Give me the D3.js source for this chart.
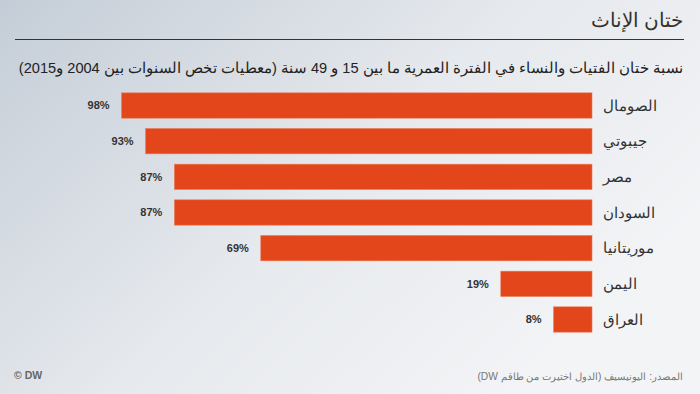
<!DOCTYPE html>
<html>
<head>
<meta charset="utf-8">
<script src="https://cdn.jsdelivr.net/npm/d3@7"></script>
<style>
  body { margin: 0; }
  svg { display: block; font-family: "Liberation Sans", Arial, sans-serif; }
</style>
</head>
<body>
<svg width="700" height="394"></svg>
<script>
// countries, top to bottom, and share in percent
const countries = ["الصومال", "جيبوتي", "مصر", "السودان", "موريتانيا", "اليمن", "العراق"];
const values = [98, 93, 87, 87, 69, 19, 8];

const title = "ختان الإناث";
const subtitle = "نسبة ختان الفتيات والنساء في الفترة العمرية ما بين 15 و  49 سنة (معطيات تخص السنوات بين 2004 و2015)";
const source = "المصدر: اليونيسيف (الدول اختيرت من طاقم DW)";

let svg = d3.select("svg"),
    width = +svg.attr("width"),
    height = +svg.attr("height");

// background gradient
const grad = svg.append("defs").append("linearGradient")
    .attr("id", "bg")
    .attr("x1", "0").attr("y1", "0")
    .attr("x2", "1").attr("y2", "0.6");
grad.append("stop").attr("offset", "0").attr("stop-color", "#c4cdd7");
grad.append("stop").attr("offset", "0.55").attr("stop-color", "#e6e9ed");
grad.append("stop").attr("offset", "1").attr("stop-color", "#f3f4f6");

svg.append("rect")
    .attr("width", width)
    .attr("height", height)
    .attr("fill", "url(#bg)");

// header (rtl, anchored on the right)
svg.append("text")
    .attr("x", 683).attr("y", 27)
    .attr("direction", "rtl")
    .attr("text-anchor", "start")
    .attr("font-size", 19.5)
    .attr("fill", "#333")
    .text(title);

svg.append("line")
    .attr("x1", 15).attr("x2", 684)
    .attr("y1", 39.5).attr("y2", 39.5)
    .attr("stroke", "#333")
    .attr("stroke-width", 1);

svg.append("text")
    .attr("x", 683).attr("y", 73)
    .attr("direction", "rtl")
    .attr("text-anchor", "start")
    .attr("font-size", 14.6)
    .attr("fill", "#222")
    .text(subtitle);

// bars grow leftwards from x = 592
const x = d3.scaleLinear()
    .domain([0, 100])
    .range([592, 112]);

const y = d3.scaleBand()
    .domain(countries)
    .range([87.5, 337.5])
    .paddingInner(0.29)
    .paddingOuter(0.15);

const rows = svg.append("g")
  .selectAll("g")
  .data(countries.map((c, i) => ({country: c, value: values[i]})))
  .join("g");

rows.append("rect")
    .attr("x", d => x(d.value))
    .attr("y", d => y(d.country))
    .attr("width", d => x(0) - x(d.value))
    .attr("height", y.bandwidth())
    .attr("fill", "#e2461a")
    .attr("stroke", "#ea7a55")
    .attr("stroke-width", 0.6);

rows.append("text")
    .attr("x", d => x(d.value) - 12)
    .attr("y", d => y(d.country) + y.bandwidth() / 2)
    .attr("dy", "0.35em")
    .attr("text-anchor", "end")
    .attr("font-size", 11)
    .attr("font-weight", "bold")
    .attr("fill", "#333")
    .text(d => d.value + "%");

rows.append("text")
    .attr("x", 603)
    .attr("y", d => y(d.country) + y.bandwidth() / 2)
    .attr("dy", "0.35em")
    .attr("direction", "rtl")
    .attr("text-anchor", "end")
    .attr("font-size", 15)
    .attr("fill", "#333")
    .text(d => d.country);

// footer
svg.append("text")
    .attr("x", 14).attr("y", 379)
    .attr("font-size", 10.5)
    .attr("font-weight", "bold")
    .attr("fill", "#666")
    .text("© DW");

svg.append("text")
    .attr("x", 683).attr("y", 380)
    .attr("direction", "rtl")
    .attr("text-anchor", "start")
    .attr("font-size", 10.2)
    .attr("fill", "#777")
    .text(source);
</script>
</body>
</html>
